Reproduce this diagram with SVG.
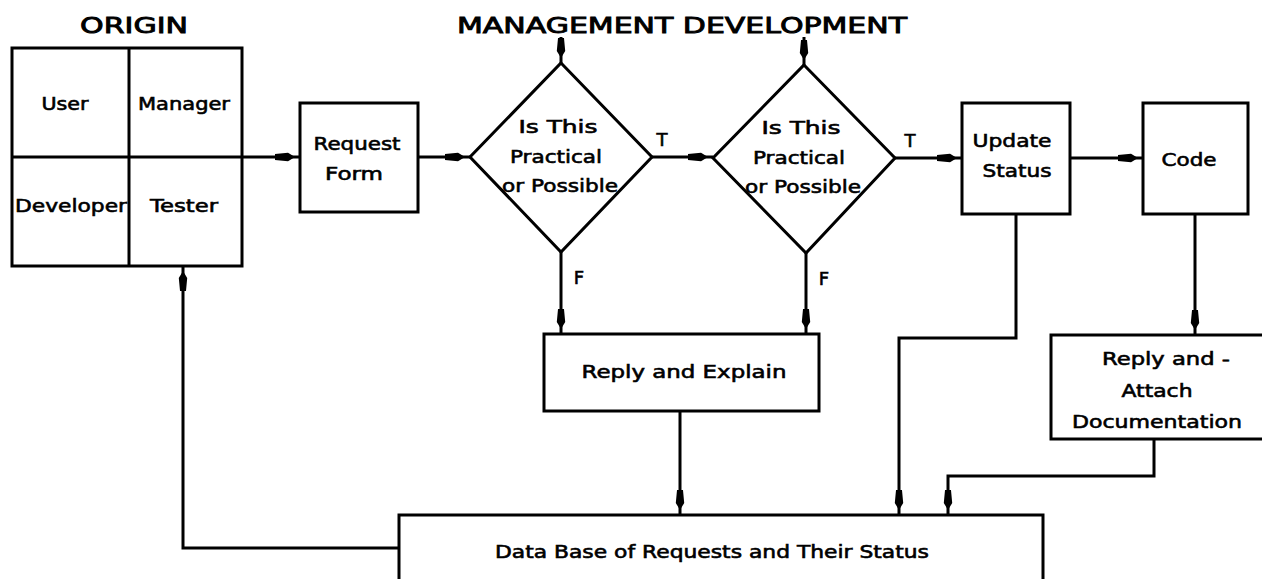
<svg xmlns="http://www.w3.org/2000/svg" width="1262" height="579" viewBox="0 0 1262 579">
  <style>
    .box { fill: #fff; stroke: #000; stroke-width: 3; }
    .edge { fill: none; stroke: #000; stroke-width: 3; stroke-linejoin: miter; }
    .lbl { font-family: "DejaVu Sans", "Liberation Sans", sans-serif; font-size: 18px; fill: #000; stroke: #000; stroke-width: 0.6; text-anchor: middle; }
    .head { font-family: "DejaVu Sans", "Liberation Sans", sans-serif; font-size: 22px; fill: #000; stroke: #000; stroke-width: 0.9; text-anchor: middle; }
  </style>
  <defs>
    <marker id="arrow" markerUnits="userSpaceOnUse" orient="auto" refX="5" refY="0" overflow="visible" markerWidth="1" markerHeight="1">
      <path d="M-20,-3 L-7,-4.2 L0,0 L-7,4.2 L-20,3 Z" fill="#000"/>
    </marker>
  </defs>
  <rect width="1262" height="579" fill="#fff"/>

  <!-- column headings -->
  <g id="headings">
    <text class="head" x="134" y="33" textLength="108" lengthAdjust="spacingAndGlyphs">ORIGIN</text>
    <text class="head" x="682" y="33" textLength="450" lengthAdjust="spacingAndGlyphs">MANAGEMENT DEVELOPMENT</text>
  </g>

  <!-- connectors -->
  <g id="connectors">
    <path class="edge" d="M242,157 H300" marker-end="url(#arrow)"/>
    <path class="edge" d="M418,157 H470" marker-end="url(#arrow)"/>
    <path class="edge" d="M561,37 V63" marker-end="url(#arrow)"/>
    <path class="edge" d="M804,37 V65" marker-end="url(#arrow)"/>
    <path class="edge" d="M652,157 H713" marker-end="url(#arrow)"/>
    <path class="edge" d="M895,158 H962" marker-end="url(#arrow)"/>
    <path class="edge" d="M1070,158 H1143" marker-end="url(#arrow)"/>
    <path class="edge" d="M561,252 V334" marker-end="url(#arrow)"/>
    <path class="edge" d="M806,253 V334" marker-end="url(#arrow)"/>
    <path class="edge" d="M680,411 V515" marker-end="url(#arrow)"/>
    <path class="edge" d="M1016,214 V338 H899 V515" marker-end="url(#arrow)"/>
    <path class="edge" d="M1195,214 V335" marker-end="url(#arrow)"/>
    <path class="edge" d="M1154,439 V476 H948 V515" marker-end="url(#arrow)"/>
    <path class="edge" d="M399,548 H183 V266" marker-end="url(#arrow)"/>
  </g>

  <!-- origin grid: four originators -->
  <g id="origin">
    <rect class="box" x="12" y="48" width="230" height="218"/>
    <path class="edge" d="M129,48 V266 M12,157 H242"/>
    <text class="lbl" x="65" y="110" textLength="47" lengthAdjust="spacingAndGlyphs">User</text>
    <text class="lbl" x="184" y="110" textLength="92" lengthAdjust="spacingAndGlyphs">Manager</text>
    <text class="lbl" x="71" y="212" textLength="112" lengthAdjust="spacingAndGlyphs">Developer</text>
    <text class="lbl" x="184" y="212" textLength="68" lengthAdjust="spacingAndGlyphs">Tester</text>
  </g>

  <g id="request-form">
    <rect class="box" x="300" y="103" width="118" height="109"/>
    <text class="lbl" x="357" y="150" textLength="87" lengthAdjust="spacingAndGlyphs">Request</text>
    <text class="lbl" x="354" y="180" textLength="58" lengthAdjust="spacingAndGlyphs">Form</text>
  </g>

  <g id="decision-1">
    <polygon class="box" points="561,63 652,157 561,252 470,157"/>
    <text class="lbl" x="558" y="133" textLength="79" lengthAdjust="spacingAndGlyphs">Is This</text>
    <text class="lbl" x="556" y="163" textLength="92" lengthAdjust="spacingAndGlyphs">Practical</text>
    <text class="lbl" x="560" y="192" textLength="116" lengthAdjust="spacingAndGlyphs">or Possible</text>
    <text class="lbl" x="662" y="146">T</text>
    <text class="lbl" x="579" y="284">F</text>
  </g>

  <g id="decision-2">
    <polygon class="box" points="804,65 895,158 806,253 713,158"/>
    <text class="lbl" x="801" y="134" textLength="79" lengthAdjust="spacingAndGlyphs">Is This</text>
    <text class="lbl" x="799" y="164" textLength="92" lengthAdjust="spacingAndGlyphs">Practical</text>
    <text class="lbl" x="803" y="193" textLength="116" lengthAdjust="spacingAndGlyphs">or Possible</text>
    <text class="lbl" x="910" y="147">T</text>
    <text class="lbl" x="824" y="285">F</text>
  </g>

  <g id="update-status">
    <rect class="box" x="962" y="103" width="108" height="111"/>
    <text class="lbl" x="1012" y="147" textLength="79" lengthAdjust="spacingAndGlyphs">Update</text>
    <text class="lbl" x="1017" y="177" textLength="69" lengthAdjust="spacingAndGlyphs">Status</text>
  </g>

  <g id="code">
    <rect class="box" x="1143" y="103" width="105" height="111"/>
    <text class="lbl" x="1189" y="166" textLength="55" lengthAdjust="spacingAndGlyphs">Code</text>
  </g>

  <g id="reply-explain">
    <rect class="box" x="544" y="334" width="275" height="77"/>
    <text class="lbl" x="684" y="378" textLength="205" lengthAdjust="spacingAndGlyphs">Reply and Explain</text>
  </g>

  <g id="reply-attach">
    <rect class="box" x="1051" y="335" width="216" height="104"/>
    <text class="lbl" x="1166" y="365" textLength="128" lengthAdjust="spacingAndGlyphs">Reply and -</text>
    <text class="lbl" x="1157" y="397" textLength="71" lengthAdjust="spacingAndGlyphs">Attach</text>
    <text class="lbl" x="1157" y="428" textLength="170" lengthAdjust="spacingAndGlyphs">Documentation</text>
  </g>

  <g id="database">
    <path class="box" d="M399,585 V515 H1043 V585"/>
    <text class="lbl" x="712" y="558" textLength="434" lengthAdjust="spacingAndGlyphs">Data Base of Requests and Their Status</text>
  </g>
</svg>
